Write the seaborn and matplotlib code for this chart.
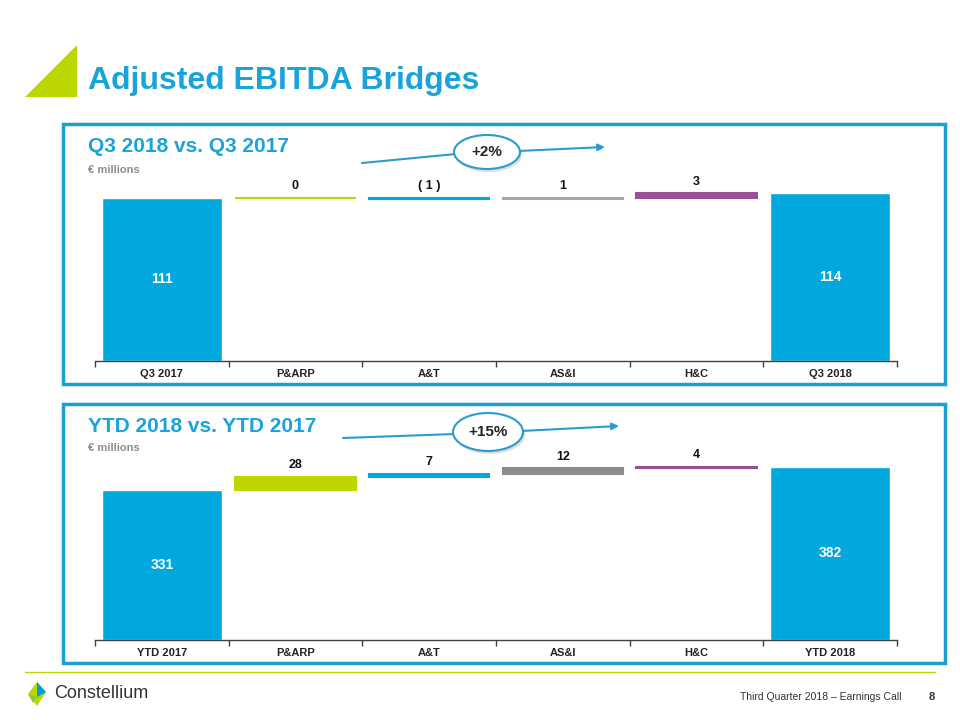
import numpy as np
import pandas as pd
import seaborn as sns
import matplotlib.pyplot as plt
from matplotlib.patches import Rectangle, Polygon, Ellipse

# data
categories_q3 = ['Q3 2017', 'P&ARP', 'A&T', 'AS&I', 'H&C', 'Q3 2018']
start_q3 = 111
deltas_q3 = [0, -1, 1, 3]
end_q3 = 114
delta_labels_q3 = ['0', '( 1 )', '1', '3']

categories_ytd = ['YTD 2017', 'P&ARP', 'A&T', 'AS&I', 'H&C', 'YTD 2018']
start_ytd = 331
deltas_ytd = [28, 7, 12, 4]
end_ytd = 382
delta_labels_ytd = ['28', '7', '12', '4']

growth_q3 = '+2%'
growth_ytd = '+15%'

BLUE = '#00A8DE'
TITLE_BLUE = '#1AA3DB'
LIME = '#BED600'
PURPLE = '#9B4F96'
delta_colors_q3 = [LIME, BLUE, '#A6A6A6', PURPLE]
delta_colors_ytd = [LIME, BLUE, '#8C8C8C', PURPLE]

sns.set_theme(style='white')
plt.rcParams['font.family'] = ['Liberation Sans', 'DejaVu Sans']

W, H = 960, 720
fig = plt.figure(figsize=(9.6, 7.2), dpi=100)

# overlay in pixel coords for slide decoration
bg = fig.add_axes([0, 0, 1, 1])
bg.set_xlim(0, W)
bg.set_ylim(H, 0)
bg.axis('off')

bg.add_patch(Polygon([[25, 97], [77, 45], [77, 97]], closed=True, color=LIME, lw=0))
bg.text(88, 81, 'Adjusted EBITDA Bridges', color=TITLE_BLUE, fontsize=23,
        fontweight='bold', va='center', ha='left')

for y0, y1 in [(124, 384), (404, 663)]:
    bg.add_patch(Rectangle((63, y0), 882, y1 - y0, fill=False, ec='#1BA1D0', lw=2.5))

bg.text(88, 146, 'Q3 2018 vs. Q3 2017', color=TITLE_BLUE, fontsize=15,
        fontweight='bold', va='center')
bg.text(88, 170, '€ millions', color='#8C8C8C', fontsize=8, fontweight='bold', va='center')
bg.text(88, 427, 'YTD 2018 vs. YTD 2017', color=TITLE_BLUE, fontsize=15,
        fontweight='bold', va='center')
bg.text(88, 448, '€ millions', color='#8C8C8C', fontsize=8, fontweight='bold', va='center')


def growth_arrow(x0, y0, cx, cy, x1, y1, w, h, label):
    bg.plot([x0, cx - w / 2 + 2], [y0, cy + 2], color='#2B9BD0', lw=1.5)
    bg.annotate('', xy=(x1, y1), xytext=(cx + w / 2 - 2, cy - 1),
                arrowprops=dict(arrowstyle='-|>', color='#2B9BD0', lw=1.5,
                                mutation_scale=10, shrinkA=0, shrinkB=0))
    bg.add_patch(Ellipse((cx + 2, cy + 3), w, h, color='#C8C8C8', lw=0, alpha=0.6))
    bg.add_patch(Ellipse((cx, cy), w, h, fc='white', ec='#2B9BD0', lw=1.5, zorder=3))
    bg.text(cx, cy, label, fontsize=11, fontweight='bold', ha='center',
            va='center', zorder=4)


growth_arrow(362, 163, 487, 152, 605, 147, 66, 34, growth_q3)
growth_arrow(343, 438, 488, 432, 619, 426, 70, 38, growth_ytd)

# footer
bg.plot([25, 935], [672, 672], color=LIME, lw=1)
bg.add_patch(Polygon([[37, 682], [46, 692], [37, 706], [28, 694]], closed=True, color=LIME, lw=0))
bg.add_patch(Polygon([[37, 682], [46, 692], [37, 697]], closed=True, color='#00A0DC', lw=0))
bg.add_patch(Polygon([[28, 694], [37, 697], [33, 703]], closed=True, color='#8DC63F', lw=0))
bg.text(54, 694, 'Constellium', fontsize=13, color='#333333', va='center')
bg.text(902, 697, 'Third Quarter 2018 – Earnings Call', fontsize=7.5,
        color='#333333', va='center', ha='right')
bg.text(932, 697, '8', fontsize=8, fontweight='bold', color='#333333', va='center', ha='center')


def waterfall(rect, cats, start, deltas, end, labels, colors, ymax):
    ax = fig.add_axes(rect)
    ax.set_facecolor('none')
    totals = pd.DataFrame({'cat': [cats[0], cats[-1]], 'val': [start, end]})
    sns.barplot(data=totals, x='cat', y='val', order=cats, color=BLUE,
                width=0.9, saturation=1, ax=ax)
    bases = start + np.concatenate([[0], np.cumsum(deltas)[:-1]])
    xs = np.arange(1, len(deltas) + 1)
    ax.bar(xs, deltas, bottom=bases, width=0.9, color=colors,
           edgecolor=colors, linewidth=1.5)
    for x, b, d, lab in zip(xs, bases, deltas, labels):
        ax.annotate(lab, (x, max(b, b + d)), xytext=(0, 4), textcoords='offset points',
                    ha='center', va='bottom', fontsize=9, fontweight='bold', color='#111111')
    for x, v in [(0, start), (len(cats) - 1, end)]:
        ax.text(x, v / 2, str(v), ha='center', va='center', color='white',
                fontsize=10, fontweight='bold')
    ax.set_xlim(-0.5, len(cats) - 0.5)
    ax.set_ylim(0, ymax)
    ax.set_xlabel('')
    ax.set_ylabel('')
    ax.set_yticks([])
    for s in ['top', 'right', 'left']:
        ax.spines[s].set_visible(False)
    ax.spines['bottom'].set_color('#404040')
    ax.spines['bottom'].set_linewidth(1)
    ax.set_xticks(np.arange(-0.5, len(cats)), minor=True)
    ax.tick_params(axis='x', which='minor', length=4, color='#404040', direction='out', bottom=True)
    ax.tick_params(axis='x', which='major', length=0, pad=6)
    ax.set_xticklabels(cats, fontsize=8, fontweight='bold', color='#222222',
                       fontfamily=['Liberation Sans Narrow', 'Liberation Sans'])
    return ax


waterfall([95 / W, 1 - 361 / H, 802 / W, 186 / H], categories_q3, start_q3,
          deltas_q3, end_q3, delta_labels_q3, delta_colors_q3, 186 / 1.47)
waterfall([95 / W, 1 - 640 / H, 802 / W, 185 / H], categories_ytd, start_ytd,
          deltas_ytd, end_ytd, delta_labels_ytd, delta_colors_ytd, 185 / 0.454)

fig.savefig('out.png', dpi=100)
